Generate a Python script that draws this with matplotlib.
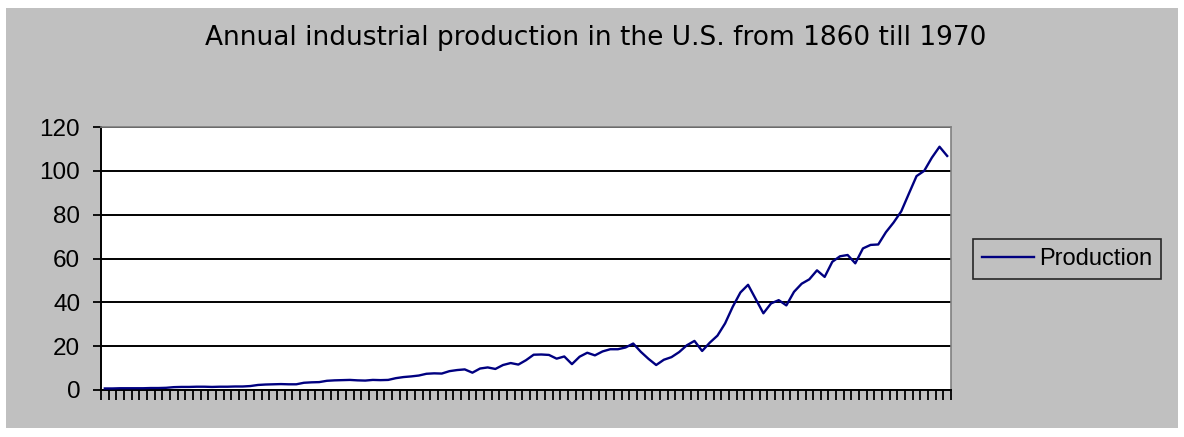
import matplotlib
matplotlib.use("Agg")
import matplotlib.pyplot as plt
from matplotlib.patches import Rectangle
from matplotlib.lines import Line2D

plt.rcParams['font.family'] = ['Liberation Sans', 'DejaVu Sans']

# Annual industrial production index, 1860-1970
years = list(range(1860, 1971))
production = [
    0.7, 0.7, 0.8, 0.8, 0.8, 0.8, 0.9, 0.9, 1.0,                  # 1860-1868
    1.3, 1.4, 1.4, 1.5, 1.5, 1.4, 1.5, 1.5, 1.6, 1.6, 1.8,        # 1869-1879
    2.3, 2.5, 2.6, 2.7, 2.6, 2.6,                                  # 1880-1885
    3.3, 3.5, 3.6,                                                 # 1886-1888
    4.2, 4.4, 4.5, 4.6, 4.4, 4.3, 4.6, 4.5, 4.6,                   # 1889-1897
    5.4, 5.9, 6.2, 6.6, 7.4, 7.6, 7.5, 8.6, 9.1, 9.4, 7.9,        # 1898-1908
    9.8, 10.3, 9.6, 11.4, 12.3, 11.6, 13.6, 16.1, 16.2, 16.0,     # 1909-1918
    14.3, 15.3, 11.8, 15.2, 17.0, 15.8, 17.6, 18.6, 18.6, 19.4,   # 1919-1928
    21.2, 17.4, 14.2, 11.4, 13.8, 15.0, 17.3, 20.4, 22.4, 17.8,   # 1929-1938
    21.6, 24.8, 30.4, 38.0, 44.5, 48.0, 41.5, 35.0, 39.5, 41.0,   # 1939-1948
    38.6, 44.8, 48.5, 50.5, 54.6, 51.6, 58.5, 61.0, 61.6, 57.8,   # 1949-1958
    64.6, 66.2, 66.4, 72.0, 76.4, 81.5, 89.6, 97.6, 100.0, 106.0, # 1959-1968
    111.0, 106.8,                                                  # 1969-1970
]
y_ticks = [0, 20, 40, 60, 80, 100, 120]
title = "Annual industrial production in the U.S. from 1860 till 1970"
series_name = "Production"

W, H, DPI = 1184, 437, 100
fig = plt.figure(figsize=(W / DPI, H / DPI), dpi=DPI, facecolor='white')

# grey chart area behind everything
bg = '#C0C0C0'
fig.patches.append(Rectangle((6 / W, 9 / H), 1172 / W, 420 / H,
                             transform=fig.transFigure, facecolor=bg,
                             edgecolor='none', zorder=-10))

ax = fig.add_axes([101 / W, (H - 390) / H, 850 / W, 263 / H])
ax.set_zorder(1)
ax.set_facecolor('white')

ax.plot(years, production, color='#000080', lw=1.7, zorder=3)

ax.set_ylim(0, 120)
ax.set_yticks(y_ticks)
ax.set_xlim(years[0] - 0.5, years[-1] + 0.5)
ax.set_xticks([y - 0.5 for y in years] + [years[-1] + 0.5])
ax.set_xticklabels([])

ax.grid(axis='y', color='black', lw=1.4, zorder=1)
ax.set_axisbelow(True)

for side in ('top', 'right'):
    ax.spines[side].set_color('#808080')
    ax.spines[side].set_linewidth(1.2)
for side in ('left', 'bottom'):
    ax.spines[side].set_color('black')
    ax.spines[side].set_linewidth(1.4)

ax.tick_params(axis='y', direction='out', length=6, width=1.3,
               labelsize=17.5, pad=9, colors='black')
ax.tick_params(axis='x', direction='out', length=7, width=1.3, colors='black')

fig.text(596 / W, (H - 38) / H, title, ha='center', va='center',
         fontsize=19, color='black', family=['DejaVu Sans'])

handle = Line2D([], [], color='#000080', lw=1.7)
leg = fig.legend([handle], [series_name], loc='center left',
                 bbox_to_anchor=(973 / W, (H - 259) / H),
                 fontsize=17, frameon=True, fancybox=False,
                 handlelength=2.2, handletextpad=0.2, borderpad=0.38,
                 borderaxespad=0)
leg.get_frame().set_facecolor(bg)
leg.get_frame().set_edgecolor('black')
leg.get_frame().set_linewidth(1.2)

fig.savefig('out.png', dpi=DPI, facecolor='white')
